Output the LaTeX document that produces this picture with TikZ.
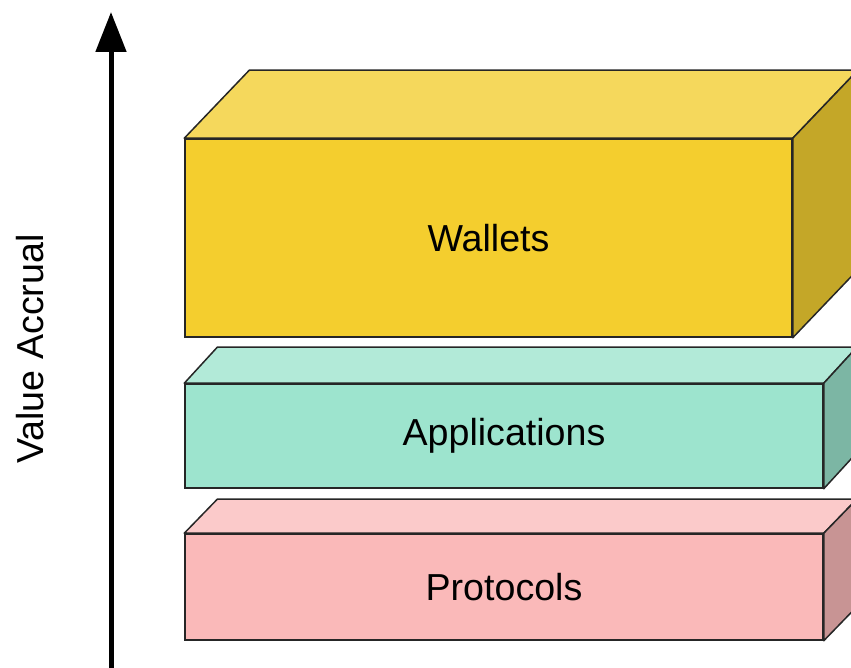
\documentclass[tikz,border=0pt]{standalone}
\usepackage{fontspec}
\setmainfont{Liberation Sans}
\usepackage{tikz}
\usetikzlibrary{arrows.meta,calc}
\definecolor{walletfront}{RGB}{244,206,46}
\definecolor{wallettop}{RGB}{245,216,92}
\definecolor{walletside}{RGB}{196,167,40}
\definecolor{appfront}{RGB}{157,228,206}
\definecolor{apptop}{RGB}{178,234,216}
\definecolor{appside}{RGB}{124,182,164}
\definecolor{protofront}{RGB}{250,185,185}
\definecolor{prototop}{RGB}{251,202,202}
\definecolor{protoside}{RGB}{200,148,148}
\newcommand{\labelfont}{\fontsize{18.8}{22}\selectfont}
% top and side faces of a slab: node, top colour, side colour, depth
\newcommand{\slabfaces}[4]{%
  \draw[face,fill=#2] (#1.north west) -- ++(#4) -- ($(#1.north east)+(#4)$) -- (#1.north east) -- cycle;
  \draw[face,fill=#3] (#1.north east) -- ++(#4) -- ($(#1.south east)+(#4)$) -- (#1.south east) -- cycle;
}
\tikzset{
  slab/.style={rectangle,draw=black!85,line width=0.75pt,inner sep=0pt,font=\labelfont},
  face/.style={draw=black!85,line width=0.75pt,line join=round},
  axis/.style={-{Triangle[length=20pt,width=15pt]},line width=2.5pt}
}

\begin{document}
\begin{tikzpicture}[x=0.5pt,y=0.5pt]
  \useasboundingbox (0,0) rectangle (851,668);
  \clip (0,0) rectangle (851,668);
  \node[slab,fill=walletfront,minimum width=303.5pt,minimum height=99pt] (wallets) at (488.5,430) {Wallets};
  \node[slab,fill=appfront,minimum width=319pt,minimum height=52pt] (apps) at (504,232) {Applications};
  \node[slab,fill=protofront,minimum width=319pt,minimum height=53pt] (protos) at (504,81) {Protocols};
  \slabfaces{wallets}{wallettop}{walletside}{65,68}
  \slabfaces{apps}{apptop}{appside}{33,36}
  \slabfaces{protos}{prototop}{protoside}{33,34}
  \coordinate (axisfoot) at (111,0);
  \coordinate (axistip) at (111,656);
  \draw[axis] (axisfoot) -- (axistip);
  \node[rotate=90,font=\labelfont] (value) at (30,319) {Value Accrual};
\end{tikzpicture}
\end{document}
